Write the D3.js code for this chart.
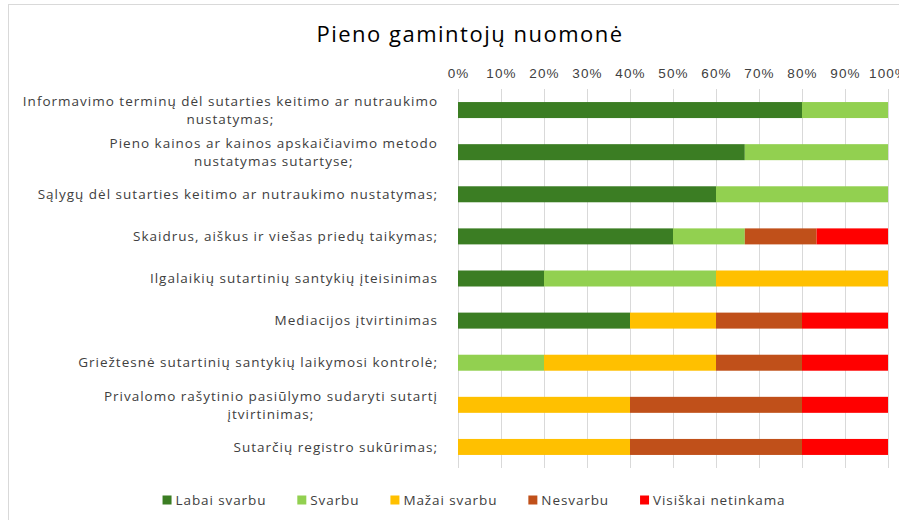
<!DOCTYPE html>
<html lang="lt">
<head>
<meta charset="UTF-8">
<title>Pieno gamintojų nuomonė</title>
<script src="https://d3js.org/d3.v7.min.js"></script>
<style>
  html, body { margin: 0; padding: 0; background: #fff; }
  body { width: 899px; height: 520px; overflow: hidden; font-family: "Open Sans", "Liberation Sans", sans-serif; }
  .title { font-size: 22px; fill: #000; letter-spacing: 1.5px; }
  .tick-label { font-size: 13.5px; fill: #404040; letter-spacing: 1.1px; }
  .cat-label { font-size: 13.5px; fill: #404040; letter-spacing: 1px; }
  .legend-label { font-size: 13.5px; fill: #404040; letter-spacing: 0.9px; }
</style>
</head>
<body>
<div id="chart"></div>
<script>
  // categories (top to bottom), line breaks as in the original chart
  const categories = [
    "Informavimo terminų dėl sutarties keitimo ar nutraukimo\nnustatymas;",
    "Pieno kainos ar kainos apskaičiavimo metodo\nnustatymas sutartyse;",
    "Sąlygų dėl sutarties keitimo ar nutraukimo nustatymas;",
    "Skaidrus, aiškus ir viešas priedų taikymas;",
    "Ilgalaikių sutartinių santykių įteisinimas",
    "Mediacijos įtvirtinimas",
    "Griežtesnė sutartinių santykių laikymosi kontrolė;",
    "Privalomo rašytinio pasiūlymo sudaryti sutartį\nįtvirtinimas;",
    "Sutarčių registro sukūrimas;"
  ];

  const seriesNames = ["Labai svarbu", "Svarbu", "Mažai svarbu", "Nesvarbu", "Visiškai netinkama"];
  const seriesColors = ["#3b7d23", "#92d050", "#ffc000", "#c0501a", "#ff0000"];

  // shares in %
  const labaiSvarbu       = [80, 66.7, 60, 50,   20, 40,  0,  0,  0];
  const svarbu            = [20, 33.3, 40, 16.7, 40,  0, 20,  0,  0];
  const mazaiSvarbu       = [ 0,  0,    0,  0,   40, 20, 40, 40, 40];
  const nesvarbu          = [ 0,  0,    0, 16.7,  0, 20, 20, 40, 40];
  const visiskaiNetinkama = [ 0,  0,    0, 16.6,  0, 20, 20, 20, 20];

  const tickValues = [0, 0.1, 0.2, 0.3, 0.4, 0.5, 0.6, 0.7, 0.8, 0.9, 1];

  const width = 899, height = 520;
  const margin = { top: 89, right: 11, bottom: 52, left: 458 };

  const rows = categories.map((c, i) => ({
    category: c,
    "Labai svarbu": labaiSvarbu[i],
    "Svarbu": svarbu[i],
    "Mažai svarbu": mazaiSvarbu[i],
    "Nesvarbu": nesvarbu[i],
    "Visiškai netinkama": visiskaiNetinkama[i]
  }));

  const stacked = d3.stack()
    .keys(seriesNames)
    .offset(d3.stackOffsetExpand)(rows);

  const x = d3.scaleLinear()
    .domain([0, 1])
    .range([margin.left, width - margin.right]);

  const y = d3.scaleBand()
    .domain(categories)
    .range([margin.top, height - margin.bottom])
    .paddingInner(0.62)
    .paddingOuter(0.31);

  const color = d3.scaleOrdinal().domain(seriesNames).range(seriesColors);

  const svg = d3.select("#chart").append("svg")
    .attr("width", width)
    .attr("height", height);

  // chart frame
  svg.append("rect")
    .attr("x", 8.5).attr("y", 4.5)
    .attr("width", width + 10).attr("height", height + 10)
    .attr("fill", "none")
    .attr("stroke", "#d9d9d9");

  svg.append("text")
    .attr("class", "title")
    .attr("x", 470).attr("y", 42)
    .attr("text-anchor", "middle")
    .text("Pieno gamintojų nuomonė");

  // gridlines + top axis labels
  const axis = d3.axisTop(x)
    .tickValues(tickValues)
    .tickFormat(d3.format(".0%"))
    .tickSize(-(y.range()[1] - y.range()[0]))
    .tickPadding(10);

  const gAxis = svg.append("g")
    .attr("transform", `translate(0,${margin.top})`)
    .call(axis);
  gAxis.select(".domain").remove();
  gAxis.selectAll(".tick line").attr("stroke", "#d9d9d9").attr("stroke-width", 1);
  gAxis.selectAll(".tick text")
    .attr("class", "tick-label")
    .attr("font-family", null)
    .attr("font-size", null)
    .attr("fill", null)
    .attr("y", -11);

  // bars
  svg.append("g").selectAll("g")
    .data(stacked)
    .join("g")
    .attr("fill", d => color(d.key))
    .selectAll("rect")
    .data(d => d)
    .join("rect")
    .attr("x", d => x(d[0]))
    .attr("y", d => y(d.data.category))
    .attr("width", d => x(d[1]) - x(d[0]))
    .attr("height", y.bandwidth());

  // category labels, wrapped block centered, block right-aligned
  const labelRight = 438;
  const lineH = 18;
  svg.append("g").selectAll("text")
    .data(categories)
    .join("text")
    .attr("class", "cat-label")
    .each(function(c) {
      const lines = c.split("\n");
      const t = d3.select(this);
      const cy = y(c) + y.bandwidth() / 2;
      const spans = lines.map((line, i) => t.append("tspan")
        .attr("y", cy + (i - (lines.length - 1) / 2) * lineH)
        .attr("dy", "0.35em")
        .text(line));
      const maxW = d3.max(spans, s => s.node().getComputedTextLength());
      spans.forEach(s => {
        s.attr("x", labelRight - maxW / 2).attr("text-anchor", "middle");
      });
    });

  // legend
  const legend = svg.append("g").attr("transform", "translate(0,500)");
  const items = legend.selectAll("g")
    .data(seriesNames)
    .join("g");
  items.append("rect")
    .attr("width", 9).attr("height", 9)
    .attr("y", -4.5)
    .attr("fill", d => color(d));
  items.append("text")
    .attr("class", "legend-label")
    .attr("x", 13)
    .attr("dy", "0.35em")
    .text(d => d);
  const gap = 31;
  let cx = 0;
  const offsets = [];
  items.each(function() {
    offsets.push(cx);
    cx += this.getBBox().width + gap;
  });
  const start = 474 - (cx - gap) / 2;
  items.attr("transform", (d, i) => `translate(${start + offsets[i]},0)`);
</script>
</body>
</html>
